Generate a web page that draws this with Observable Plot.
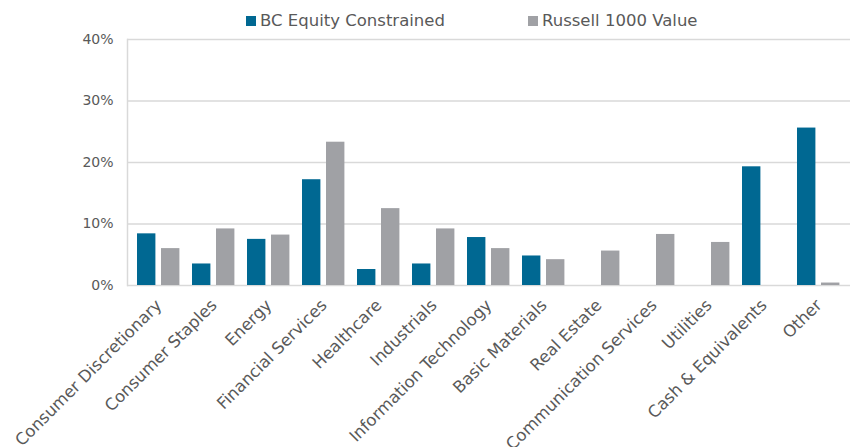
<!DOCTYPE html>
<html>
<head>
<meta charset="utf-8">
<script src="https://cdn.jsdelivr.net/npm/d3@7"></script>
<script src="https://cdn.jsdelivr.net/npm/@observablehq/plot@0.6"></script>
<style>
  html, body { margin: 0; padding: 0; background: #fff; }
  #wrap { width: 850px; height: 447px; position: relative; font-family: "DejaVu Sans", sans-serif; color: #595959; }
  #legend { position: relative; height: 34px; width: 850px; }
  .item { position: absolute; top: 11px; display: flex; align-items: center; font-size: 16.5px; line-height: 20px; white-space: nowrap; }
  .sw { width: 10px; height: 10px; margin-right: 4px; display: inline-block; }
</style>
</head>
<body>
<div id="wrap">
  <div id="legend"></div>
  <div id="chart"></div>
</div>
<script>
const categories = [
  "Consumer Discretionary", "Consumer Staples", "Energy", "Financial Services",
  "Healthcare", "Industrials", "Information Technology", "Basic Materials",
  "Real Estate", "Communication Services", "Utilities", "Cash & Equivalents", "Other"
];
const seriesNames = ["BC Equity Constrained", "Russell 1000 Value"];
const bcValues     = [8.4, 3.5, 7.5, 17.2, 2.6, 3.5, 7.8, 4.8, 0, 0, 0, 19.3, 25.6];
const russellValues = [6.0, 9.2, 8.2, 23.3, 12.5, 9.2, 6.0, 4.2, 5.6, 8.3, 7.0, 0, 0.4];
const yTicks = [0, 10, 20, 30, 40];
const colors = ["#006892", "#A0A1A5"];

// legend
const legend = document.getElementById("legend");
const legendLeft = [246, 528];
seriesNames.forEach((name, i) => {
  const d = document.createElement("div");
  d.className = "item";
  d.style.left = legendLeft[i] + "px";
  d.innerHTML = `<span class="sw" style="background:${colors[i]}"></span><span>${name}</span>`;
  legend.appendChild(d);
});

const bcData = categories.map((c, i) => ({ category: c, value: bcValues[i] }));
const rData = categories.map((c, i) => ({ category: c, value: russellValues[i] }));

const chart = Plot.plot({
  width: 850,
  height: 413,
  marginTop: 5,
  marginBottom: 162,
  marginLeft: 127,
  marginRight: 0,
  style: { fontFamily: "DejaVu Sans, sans-serif", color: "#595959", background: "white", overflow: "visible" },
  x: { domain: categories, padding: 0, axis: null },
  y: { domain: [0, 40], axis: null },
  marks: [
    Plot.ruleY(yTicks, { stroke: "#d9d9d9", strokeWidth: 1.5 }),
    Plot.frame({ anchor: "left", stroke: "#d9d9d9", strokeWidth: 1.5 }),
    Plot.barY(bcData, { x: "category", y: "value", fill: colors[0], insetLeft: 6, insetRight: 30.6 }),
    Plot.barY(rData, { x: "category", y: "value", fill: colors[1], insetLeft: 30, insetRight: 6.6 }),
    Plot.axisY({ ticks: yTicks, tickFormat: d => d + "%", tickSize: 0, tickPadding: 14, fontSize: 14, label: null }),
    Plot.axisX({ tickRotate: -45, tickSize: 0, tickPadding: 17, fontSize: 16.5, label: null })
  ]
});
document.getElementById("chart").appendChild(chart);
</script>
</body>
</html>
